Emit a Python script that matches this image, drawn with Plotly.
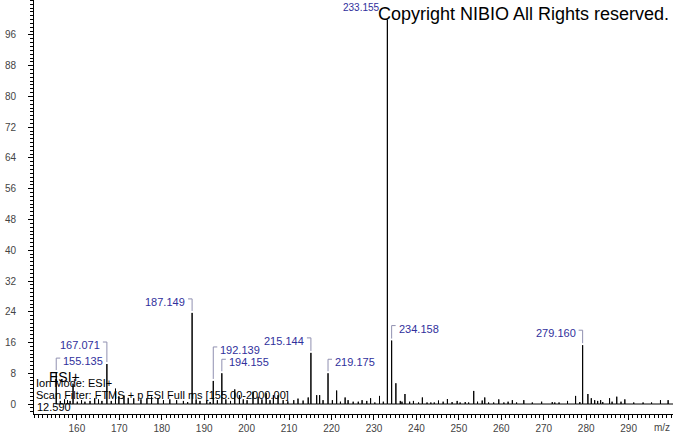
import plotly.graph_objects as go

# ---------------- data ----------------
peak_mz = [
    155.135, 156.10, 157.10, 157.80, 158.40, 159.10, 160.10, 161.10, 161.90, 163.10,
    164.20, 165.10, 165.90, 167.071, 168.10, 169.10, 169.90, 171.10, 172.10, 173.40,
    175.10, 176.50, 177.60, 179.10, 180.40, 181.90, 183.50, 185.10, 186.10, 187.149,
    188.10, 189.00, 190.60, 191.40, 192.139, 193.10, 194.155, 195.10, 196.20, 197.20,
    198.30, 199.20, 200.10, 201.50, 202.70, 203.60, 204.60, 205.50, 206.30, 207.40,
    208.60, 209.70, 211.10, 212.10, 213.30, 214.50, 215.144, 216.50, 217.20, 218.00,
    219.175, 220.20, 221.20, 222.10, 223.20, 223.90, 225.10, 226.30, 227.20, 228.30,
    229.20, 230.20, 231.30, 232.20, 233.155, 234.158, 235.16, 236.20, 236.60, 237.30,
    238.40, 239.30, 240.50, 241.40, 242.50, 243.40, 244.20, 245.20, 246.30, 247.30,
    248.40, 249.60, 250.30, 251.50, 252.30, 253.50, 254.40, 255.50, 256.10, 257.00,
    258.20, 259.40, 260.60, 261.60, 262.60, 263.60, 265.30, 267.30, 269.50, 272.00,
    272.60, 273.60, 275.60, 277.50, 278.50, 279.160, 280.40, 281.20, 282.00, 282.70,
    283.40, 283.90, 285.50, 286.10, 287.20, 288.20, 289.10, 291.20, 293.40, 295.40,
    297.50, 299.30,
]
peak_int = [
    8.3, 0.8, 1.2, 1.0, 0.8, 5.3, 0.6, 1.0, 0.6, 0.8,
    1.5, 1.2, 0.8, 10.4, 0.8, 4.0, 2.0, 2.2, 1.6, 1.5,
    1.2, 1.5, 1.9, 1.5, 1.0, 1.2, 1.0, 0.8, 0.5, 23.7,
    1.2, 0.8, 0.9, 0.5, 6.0, 1.0, 8.0, 1.2, 0.8, 3.8,
    2.3, 1.2, 1.0, 3.2, 1.9, 1.2, 2.8, 1.0, 2.3, 2.3,
    1.0, 0.7, 1.0, 1.4, 0.9, 1.7, 13.3, 2.3, 2.3, 1.0,
    8.0, 1.0, 3.5, 0.6, 1.7, 1.0, 0.6, 0.6, 1.0, 0.8,
    1.5, 0.4, 2.1, 0.6, 100.0, 16.5, 5.4, 0.8, 0.6, 2.6,
    0.6, 0.8, 0.4, 1.7, 0.4, 0.4, 0.4, 0.9, 0.6, 1.3,
    0.5, 0.8, 0.4, 0.5, 0.4, 3.4, 0.6, 0.9, 1.7, 0.4,
    0.4, 1.2, 0.4, 0.6, 1.0, 0.4, 1.0, 0.4, 0.6, 0.5,
    0.4, 0.4, 0.8, 2.1, 0.5, 15.3, 2.6, 1.5, 1.0, 0.8,
    1.0, 0.5, 1.5, 0.6, 1.9, 0.6, 1.2, 0.4, 0.4, 0.4,
    1.0, 1.0,
]
label_mz = [155.135, 167.071, 187.149, 192.139, 194.155, 215.144, 219.175, 233.155, 234.158, 279.160]
label_text = ["155.135", "167.071", "187.149", "192.139", "194.155", "215.144", "219.175", "233.155", "234.158", "279.160"]
y_ticks = [0, 8, 16, 24, 32, 40, 48, 56, 64, 72, 80, 88, 96]
x_ticks = [160, 170, 180, 190, 200, 210, 220, 230, 240, 250, 260, 270, 280, 290]
scan_range = [155.00, 2000.00]
ion_mode = "ESI+"
retention_time = "12.590"

# ---------------- layout / style ----------------
W, H = 673, 433
ML, MR, MT, MB = 34, 0, 0, 19
PW, PH = W - ML - MR, H - MT - MB
X0, X1 = 149.9, 300.45
Y0, Y1 = -2.6, 105.1
XPX = (X1 - X0) / PW
YPX = (Y1 - Y0) / PH
FONT = "Liberation Sans, Arial, sans-serif"
LBL_COLOR = "#30309c"
BRK_COLOR = "#9090b0"

# label placement style: side of text relative to peak, extra lift (px)
label_side = ["right", "left", "left", "right", "right", "left", "right", "left", "right", "left"]
label_lift = [11, 19, 11, 31, 11, 12, 11, 12, 12, 12]
label_size = [11, 11, 11, 11, 11, 11, 11, 10, 11, 11]
label_bracket = [True, True, True, True, True, True, True, False, True, True]

# stick spectrum (baseline from scan start)
xs, ys = [scan_range[0]], [0]
for m, h in sorted(zip(peak_mz, peak_int)):
    xs += [m, m, m]
    ys += [0, h, 0]
xs.append(X1)
ys.append(0)

fig = go.Figure()
fig.add_trace(go.Scatter(x=xs, y=ys, mode="lines",
                         line=dict(color="black", width=1), hoverinfo="skip",
                         showlegend=False))

annotations = []
shapes = []
int_of = dict(zip(peak_mz, peak_int))
for m, t, side, lift, fs, br in zip(label_mz, label_text, label_side, label_lift,
                                    label_size, label_bracket):
    h = int_of[m]
    sgn = 1 if side == "right" else -1
    annotations.append(dict(
        x=m, y=h, xref="x", yref="y", text=t, showarrow=False,
        xanchor="left" if side == "right" else "right", yanchor="middle",
        xshift=5 * sgn, yshift=lift,
        font=dict(family=FONT, size=fs, color=LBL_COLOR)))
    if br:
        ytop = h + (lift + 3) * YPX
        ybot = h + 2 * YPX
        xend = m + sgn * 4 * XPX
        shapes.append(dict(type="path", xref="x", yref="y",
                           path=f"M {xend},{ytop} L {m},{ytop} L {m},{ybot}",
                           line=dict(color=BRK_COLOR, width=1)))


def px(p):
    return (p - ML) / PW


def py(p):
    return (MT + PH - p) / PH


annotations += [
    dict(x=px(376), y=py(14), xref="paper", yref="paper", showarrow=False,
         xanchor="left", yanchor="middle", text="Copyright NIBIO All Rights reserved.",
         font=dict(family=FONT, size=18, color="black")),
    dict(x=px(47), y=py(377), xref="paper", yref="paper", showarrow=False,
         xanchor="left", yanchor="middle", text=ion_mode,
         font=dict(family=FONT, size=14, color="black")),
    dict(x=px(34), y=py(383), xref="paper", yref="paper", showarrow=False,
         xanchor="left", yanchor="middle", text="Ion Mode: " + ion_mode,
         font=dict(family=FONT, size=11, color="black")),
    dict(x=px(34), y=py(395), xref="paper", yref="paper", showarrow=False,
         xanchor="left", yanchor="middle",
         text=f"Scan Filter: FTMS + p ESI Full ms [{scan_range[0]:.2f}-{scan_range[1]:.2f}]",
         font=dict(family=FONT, size=11, color="black")),
    dict(x=px(35), y=py(407), xref="paper", yref="paper", showarrow=False,
         xanchor="left", yanchor="middle", text=retention_time,
         font=dict(family=FONT, size=11, color="black")),
    dict(x=px(662), y=py(428), xref="paper", yref="paper", showarrow=False,
         xanchor="center", yanchor="middle", text="m/z",
         font=dict(family=FONT, size=10, color="#444")),
]

fig.update_layout(
    width=W, height=H,
    margin=dict(l=ML, r=MR, t=MT, b=MB, pad=0),
    paper_bgcolor="white", plot_bgcolor="white",
    showlegend=False,
    annotations=annotations, shapes=shapes,
    font=dict(family=FONT),
)
fig.update_xaxes(
    range=[X0, X1], showgrid=False, zeroline=False,
    showline=True, linecolor="black", linewidth=1,
    ticks="outside", ticklen=5, tickcolor="black",
    tickvals=x_ticks, ticktext=[str(v) for v in x_ticks],
    tickfont=dict(family=FONT, size=10, color="#444"),
    minor=dict(dtick=1, tick0=150, ticks="outside", ticklen=3, tickcolor="black"),
)
fig.update_yaxes(
    range=[Y0, Y1], showgrid=False, zeroline=False,
    showline=True, linecolor="black", linewidth=1,
    ticks="outside", ticklen=5, tickcolor="black",
    tickvals=y_ticks, ticktext=[str(v) for v in y_ticks],
    tickfont=dict(family=FONT, size=10, color="#444"),
    ticklabelstandoff=10,
    minor=dict(dtick=1, tick0=0, ticks="outside", ticklen=3, tickcolor="black"),
)

fig.write_html("out.html", config={"displayModeBar": False},
               post_script="document.body.style.margin='0';document.body.style.overflow='hidden';")
